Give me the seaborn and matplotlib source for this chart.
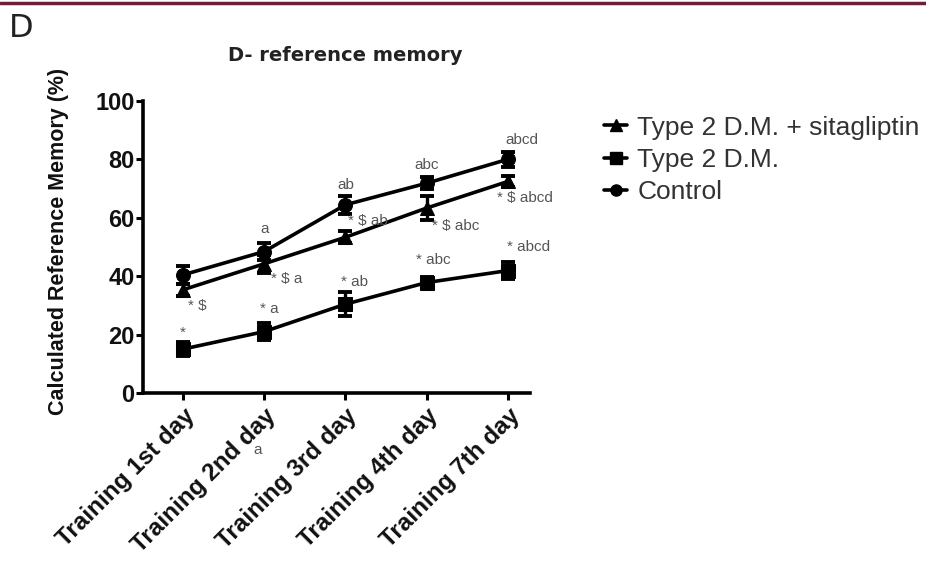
import matplotlib
matplotlib.use("Agg")
import matplotlib.pyplot as plt
import seaborn as sns
import pandas as pd
import numpy as np
from matplotlib.lines import Line2D

days = ["Training 1st day", "Training 2nd day", "Training 3rd day",
        "Training 4th day", "Training 7th day"]
groups = ["Type 2 D.M. + sitagliptin", "Type 2 D.M.", "Control"]
sitagliptin = [35.3, 44.2, 53.3, 63.3, 72.4]
sitagliptin_err = [2.0, 3.0, 2.0, 4.0, 2.0]
t2dm = [15.0, 21.0, 30.4, 37.8, 41.9]
t2dm_err = [2.5, 3.0, 4.0, 2.0, 3.0]
control = [40.4, 48.4, 64.4, 71.8, 80.0]
control_err = [3.0, 3.0, 3.0, 2.0, 2.5]

sit_labels = ["* $", "* $ a", "* $ ab", "* $ abc", "* $ abcd"]
t2dm_labels = ["*", "* a", "* ab", "* abc", "* abcd"]
control_labels = ["", "a", "ab", "abc", "abcd"]

sns.set_style("ticks")
plt.rcParams['font.family'] = ['Liberation Sans', 'DejaVu Sans']

means = [sitagliptin, t2dm, control]
errs = [sitagliptin_err, t2dm_err, control_err]
markers = ["^", "s", "o"]

rows = []
for g, vals in zip(groups, means):
    for i, v in enumerate(vals):
        rows.append({"day": i, "group": g, "value": v})
df = pd.DataFrame(rows)

fig = plt.figure(figsize=(9.26, 5.63), dpi=100)
ax = fig.add_axes([0.1544, 0.302, 0.418, 0.519])

sns.lineplot(data=df, x="day", y="value", hue="group", style="group",
             hue_order=groups, style_order=groups,
             palette=["black"] * 3, markers=dict(zip(groups, markers)),
             dashes=False, markersize=10, linewidth=2.6, ax=ax,
             markeredgecolor="black", legend=False)

for vals, e in zip(means, errs):
    ax.errorbar(range(len(days)), vals, yerr=e, fmt="none", ecolor="black",
                elinewidth=2.4, capsize=5, capthick=2.8)

ann_color = "#555555"
fs_ann = 11
ctrl_off = [(0, 0), (0, 11), (0, 9), (0, 8), (10, 9)]
for i, (v, t) in enumerate(zip(control, control_labels)):
    if t:
        dx, dy = ctrl_off[i]
        ax.annotate(t, (i, v), xytext=(dx, dy), textcoords="offset points",
                    ha="center", va="bottom", fontsize=fs_ann, color=ann_color)
sit_off = [(4, -12), (5, -11), (2, 12), (4, -13), (-8, -12)]
for i, (v, t) in enumerate(zip(sitagliptin, sit_labels)):
    dx, dy = sit_off[i]
    ax.annotate(t, (i, v), xytext=(dx, dy), textcoords="offset points",
                ha="left", va="center", fontsize=fs_ann, color=ann_color)
t2_off = [(0, 7), (-3, 11), (-3, 11), (-8, 11), (-1, 12)]
for i, (v, t) in enumerate(zip(t2dm, t2dm_labels)):
    dx, dy = t2_off[i]
    ax.annotate(t, (i, v), xytext=(dx, dy), textcoords="offset points",
                ha="left" if i else "center", va="bottom", fontsize=fs_ann,
                color=ann_color)

ax.set_xlim(-0.49, 4.27)
ax.set_ylim(0, 100)
ax.set_yticks([0, 20, 40, 60, 80, 100])
ax.set_xticks(range(len(days)))
ax.set_xticklabels(days, rotation=45, ha="right", rotation_mode="anchor",
                   fontsize=17.5, fontweight="bold", color="#111111")
for lab in ax.get_yticklabels():
    lab.set_fontsize(17)
    lab.set_fontweight("bold")
    lab.set_color("#111111")
ax.tick_params(axis="both", width=2.2, length=5, color="black")
ax.tick_params(axis="y", pad=1)
ax.tick_params(axis="x", pad=3)
for s in ["left", "bottom"]:
    ax.spines[s].set_linewidth(2.6)
    ax.spines[s].set_color("black")
sns.despine(ax=ax)
ax.set_xlabel("")
ax.set_ylabel("Calculated Reference Memory (%)", fontsize=15.5,
              fontweight="bold", color="#111111")
ax.yaxis.set_label_coords(-0.19, 0.52)

ax.text(0.92, -19.5, "a", fontsize=fs_ann, color=ann_color, ha="center",
        va="center", clip_on=False)

fig.text(0.373, 0.902, "D- reference memory", ha="center",
         va="center", fontsize=14, fontweight="bold", family="DejaVu Sans",
         color="#222222")
fig.text(0.010, 0.95, "D", ha="left", va="center", fontsize=23,
         color="#222222", family="DejaVu Sans")

handles = [Line2D([], [], color="black", marker=m, markersize=8,
                  linewidth=2.6) for m in markers]
fig.legend(handles, groups, loc="upper left", bbox_to_anchor=(0.627, 0.837),
           frameon=False, fontsize=19, handlelength=0.85, handletextpad=0.4,
           labelspacing=0.32, labelcolor="#333333")

fig.add_artist(Line2D([0, 1], [0.994, 0.994], color="#6e1f3c", linewidth=2.5,
                      transform=fig.transFigure))

fig.savefig("out.png", dpi=100)
